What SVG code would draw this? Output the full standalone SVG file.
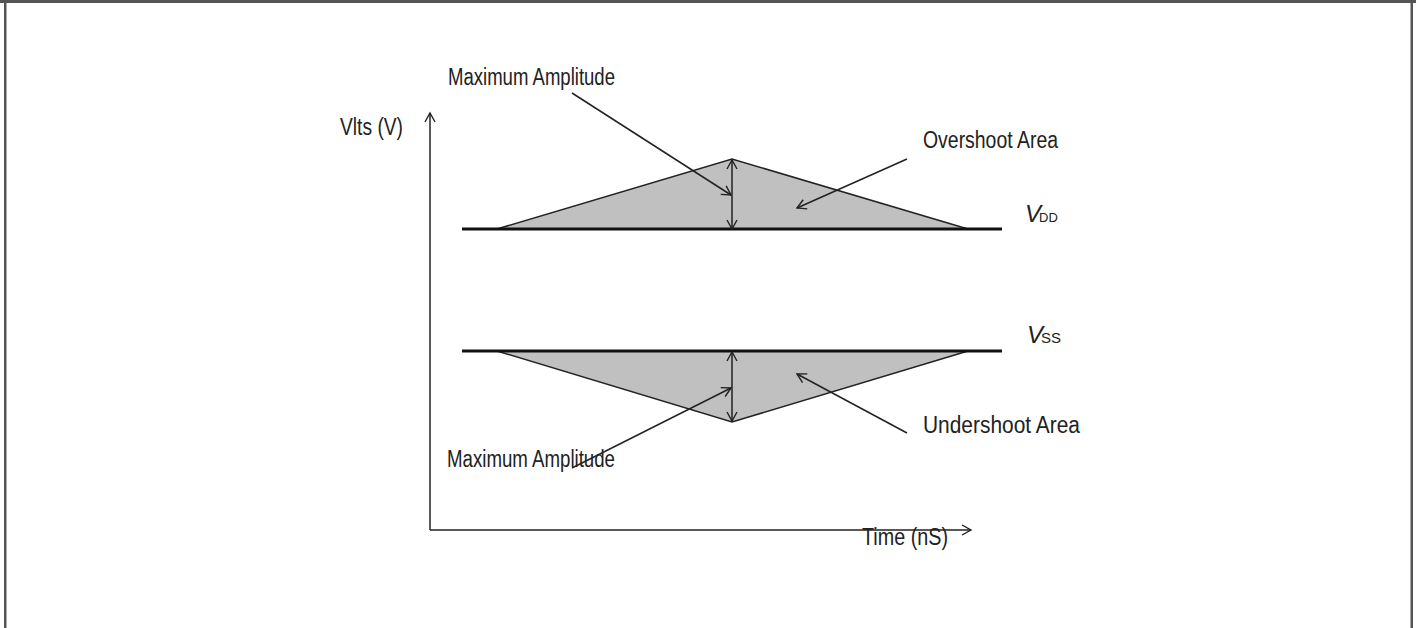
<svg xmlns="http://www.w3.org/2000/svg" width="1416" height="628" viewBox="0 0 1416 628">
  <defs>
    <marker id="open" viewBox="-10 -6 12 12" markerWidth="12" markerHeight="12" refX="0" refY="0" orient="auto-start-reverse" markerUnits="userSpaceOnUse">
      <path d="M-9,-5 L0,0 L-9,5" fill="none" stroke="#222" stroke-width="1.4"/>
    </marker>
  </defs>
  <style>
    .lbl { font-family: "Liberation Sans", Arial, sans-serif; font-size: 23px; fill: #222; }
    .sym { font-family: "Liberation Sans", Arial, sans-serif; fill: #222; }
    .thin { stroke: #222; stroke-width: 1.5; fill: none; }
    .rail { stroke: #111; stroke-width: 3; }
    .area { fill: #c0c0c0; stroke: #222; stroke-width: 1.5; }
  </style>
  <rect x="0" y="0" width="1416" height="628" fill="#ffffff"/>
  <g id="frame">
    <rect x="0" y="0" width="1416" height="3" fill="#555"/>
    <rect x="4" y="0" width="2.5" height="628" fill="#555"/>
    <rect x="1410.5" y="0" width="2.5" height="628" fill="#555"/>
  </g>

  <g id="overshoot-area">
    <polygon class="area" points="497,229 732,159 968,229"/>
  </g>
  <g id="undershoot-area">
    <polygon class="area" points="497,351 732,422 968,351"/>
  </g>
  <g id="vdd-rail"><line class="rail" x1="462" y1="229" x2="1002" y2="229"/></g>
  <g id="vss-rail"><line class="rail" x1="462" y1="351" x2="1002" y2="351"/></g>

  <g id="connectors">
    <line class="thin" x1="430" y1="530" x2="430" y2="113" marker-end="url(#open)"/>
    <line class="thin" x1="430" y1="530" x2="971" y2="530" marker-end="url(#open)"/>
    <line class="thin" x1="732" y1="229" x2="732" y2="160" marker-start="url(#open)" marker-end="url(#open)"/>
    <line class="thin" x1="732" y1="352" x2="732" y2="421" marker-start="url(#open)" marker-end="url(#open)"/>
    <line class="thin" x1="572" y1="93" x2="731" y2="195" marker-end="url(#open)"/>
    <line class="thin" x1="907" y1="159" x2="797" y2="208" marker-end="url(#open)"/>
    <line class="thin" x1="907" y1="433" x2="797" y2="374" marker-end="url(#open)"/>
    <line class="thin" x1="572" y1="468" x2="731" y2="388" marker-end="url(#open)"/>
  </g>

  <g id="label-volts"><text class="lbl" x="340" y="135" textLength="63" lengthAdjust="spacingAndGlyphs">Vlts  (V)</text></g>
  <g id="label-max-top"><text class="lbl" x="448" y="85" textLength="167" lengthAdjust="spacingAndGlyphs">Maximum Amplitude</text></g>
  <g id="label-overshoot"><text class="lbl" x="923" y="148" textLength="135" lengthAdjust="spacingAndGlyphs">Overshoot Area</text></g>
  <g id="label-vdd"><text class="sym" x="1025" y="222" font-size="24" font-style="italic">V<tspan font-size="13" font-style="normal" dx="-2">DD</tspan></text></g>
  <g id="label-vss"><text class="sym" x="1027" y="343" font-size="24" font-style="italic">V<tspan font-size="15" font-style="normal" dx="-2">SS</tspan></text></g>
  <g id="label-undershoot"><text class="lbl" x="923" y="433" textLength="157" lengthAdjust="spacingAndGlyphs">Undershoot  Area</text></g>
  <g id="label-max-bottom"><text class="lbl" x="447" y="467" textLength="168" lengthAdjust="spacingAndGlyphs">Maximum Amplitude</text></g>
  <g id="label-time"><text class="lbl" x="862" y="545" textLength="86" lengthAdjust="spacingAndGlyphs">Time  (nS)</text></g>
</svg>
